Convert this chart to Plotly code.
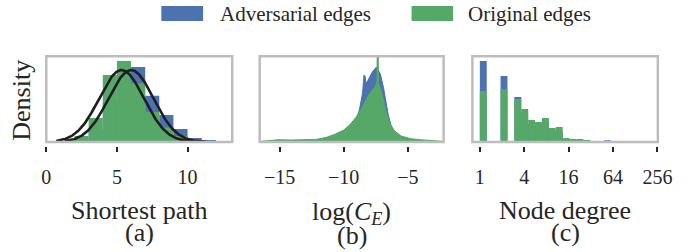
import numpy as np
import plotly.graph_objects as go

W, H = 691, 252
BLUE = '#4C72B0'
GREEN = '#55A868'
FRAME = '#bdbdbd'
INK = '#262626'
CURVE = '#1f1f1f'
FONT = 'Liberation Serif, Times New Roman, serif'

# ---------------- data ----------------
# (a) shortest path: density histograms with unit-width bins, plus normal fits
sp_bin_left = [2, 3, 4, 5, 6, 7, 8, 9, 10, 11]
sp_adv = [0.007, 0.042, 0.140, 0.237, 0.262, 0.161, 0.094, 0.045, 0.014, 0.007]
sp_orig = [0.021, 0.084, 0.234, 0.283, 0.205, 0.105, 0.051, 0.021, 0.009, 0.002]
sp_fit_adv = {'mu': 6.0, 'sigma': 1.59, 'lo': 1.3, 'hi': 11.3}
sp_fit_orig = {'mu': 5.33, 'sigma': 1.59, 'lo': 0.7, 'hi': 10.6}

# (b) log(C_E): density estimates
ce_adv_x = [-12.0, -11.0, -10.0, -9.54, -9.16, -8.78, -8.53, -8.47, -8.42, -8.33, -8.27,
            -8.10, -7.78, -7.45, -7.15, -6.90, -6.72, -6.52, -6.27, -6.02, -5.51, -4.76,
            -3.75, -3.0]
ce_adv_y = [0.003, 0.013, 0.033, 0.087, 0.17, 0.32, 0.49, 0.60, 0.67, 0.66, 0.59,
            0.62, 0.70, 0.753, 0.687, 0.55, 0.42, 0.27, 0.15, 0.08, 0.027, 0.01,
            0.003, 0.0]
ce_orig_x = [-16.6, -16.1, -15.1, -14.1, -13.1, -12.1, -11.35, -10.7, -10.0, -9.54, -9.03,
             -8.65, -8.27, -7.90, -7.57, -7.40, -7.39, -7.30, -7.29, -7.08, -6.90, -6.65,
             -6.40, -6.02, -5.51, -4.76, -3.75, -2.74, -2.2]
ce_orig_y = [0.005, 0.01, 0.023, 0.02, 0.02, 0.027, 0.047, 0.077, 0.12, 0.17, 0.25,
             0.327, 0.42, 0.50, 0.55, 0.60, 0.90, 0.90, 0.587, 0.52, 0.42, 0.287,
             0.187, 0.11, 0.06, 0.033, 0.02, 0.01, 0.006]

# (c) node degree: histograms on log2-spaced bins (first bin starts at degree 1)
deg_bin_width_log2 = 0.311
deg_adv = [0.81, 0, 0, 0.66, 0, 0.45, 0.30, 0.18, 0.16, 0.20, 0.11, 0.11, 0.03, 0.02,
           0.02, 0.01, 0.005, 0, 0.012]
deg_orig = [0.51, 0, 0, 0.53, 0, 0.43, 0.33, 0.22, 0.20, 0.24, 0.14, 0.15, 0.04, 0.03,
            0.03, 0.02, 0.007, 0, 0]
deg_tick_values = [1, 4, 16, 64, 256]

labels = ['Adversarial edges', 'Original edges']

# ---------------- layout geometry (pixels) ----------------
PLOT_TOP = 56.3      # frame top
FRAME_BOT = 142.0    # frame bottom (y = 0)
AXIS_BOT = 146.0     # tick start
frames_px = [(42.5, 234.0), (262.3, 451.7), (481.3, 672.3)]

def px_x(p):
    return p / W

def px_y(p):
    return 1 - p / H

def yrange(top):
    span = FRAME_BOT - PLOT_TOP
    return [-top * (AXIS_BOT - FRAME_BOT) / span, top]

fig = go.Figure()

# (a)
fig.add_bar(x=sp_bin_left, y=sp_adv, width=1, offset=0, marker=dict(color=BLUE, line_width=0),
            name=labels[0], xaxis='x', yaxis='y', showlegend=False)
fig.add_bar(x=sp_bin_left, y=sp_orig, width=1, offset=0, marker=dict(color=GREEN, line_width=0),
            name=labels[1], xaxis='x', yaxis='y', showlegend=False)
for fit in (sp_fit_orig, sp_fit_adv):
    xs = np.linspace(fit['lo'], fit['hi'], 200)
    ys = np.exp(-0.5 * ((xs - fit['mu']) / fit['sigma']) ** 2) / (fit['sigma'] * np.sqrt(2 * np.pi))
    fig.add_scatter(x=xs, y=ys, mode='lines', line=dict(color=CURVE, width=2.6),
                    xaxis='x', yaxis='y', showlegend=False, hoverinfo='skip')

# (b)
fig.add_scatter(x=ce_adv_x, y=ce_adv_y, mode='lines', fill='tozeroy', fillcolor=BLUE,
                line=dict(color=BLUE, width=1), xaxis='x2', yaxis='y2', showlegend=False,
                name=labels[0])
fig.add_scatter(x=ce_orig_x, y=ce_orig_y, mode='lines', fill='tozeroy', fillcolor=GREEN,
                line=dict(color=GREEN, width=1), xaxis='x2', yaxis='y2', showlegend=False,
                name=labels[1])

# (c)
deg_left = np.arange(len(deg_orig)) * deg_bin_width_log2
fig.add_bar(x=deg_left, y=deg_adv, width=deg_bin_width_log2, offset=0,
            marker=dict(color=BLUE, line_width=0), xaxis='x3', yaxis='y3', showlegend=False,
            name=labels[0])
fig.add_bar(x=deg_left, y=deg_orig, width=deg_bin_width_log2, offset=0,
            marker=dict(color=GREEN, line_width=0), xaxis='x3', yaxis='y3', showlegend=False,
            name=labels[1])

ydom = [px_y(AXIS_BOT), px_y(PLOT_TOP)]
tickfont = dict(family=FONT, size=20, color=INK)
xcommon = dict(ticks='outside', ticklen=5, tickwidth=2, tickcolor=INK, showline=False,
               showgrid=False, zeroline=False, tickfont=tickfont, ticklabelstandoff=8,
               title=dict(text=''))
ycommon = dict(visible=False, showgrid=False, zeroline=False, domain=ydom)

fig.update_layout(
    width=W, height=H, autosize=False, margin=dict(l=0, r=0, t=0, b=0),
    paper_bgcolor='white', plot_bgcolor='white', barmode='overlay',
    xaxis=dict(domain=[px_x(frames_px[0][0]), px_x(frames_px[0][1])], range=[0, 13.16],
               tickvals=[0, 5, 10], anchor='y', **xcommon),
    yaxis=dict(range=yrange(0.299), anchor='x', **ycommon),
    xaxis2=dict(domain=[px_x(frames_px[1][0]), px_x(frames_px[1][1])], range=[-16.56, -2.2],
                tickvals=[-15, -10, -5], anchor='y2', **xcommon),
    yaxis2=dict(range=yrange(0.86), anchor='x2', **ycommon),
    xaxis3=dict(domain=[px_x(frames_px[2][0]), px_x(frames_px[2][1])], range=[-0.337, 8.02],
                tickvals=list(np.log2(deg_tick_values)), ticktext=[str(v) for v in deg_tick_values],
                anchor='y3', **xcommon),
    yaxis3=dict(range=yrange(0.857), anchor='x3', **ycommon),
    showlegend=False,
)

# frames
for (l, r) in frames_px:
    fig.add_shape(type='rect', xref='paper', yref='paper', x0=px_x(l), x1=px_x(r),
                  y0=px_y(FRAME_BOT), y1=px_y(PLOT_TOP), line=dict(color=FRAME, width=2.5),
                  fillcolor='rgba(0,0,0,0)', layer='above')

# legend (patches + text)
for (l, r), col, txt, tx in [((161, 204), BLUE, labels[0], 219), ((418.7, 461.5), GREEN, labels[1], 475)]:
    fig.add_shape(type='rect', xref='paper', yref='paper', x0=px_x(l), x1=px_x(r),
                  y0=px_y(21), y1=px_y(6), line_width=0, fillcolor=col)
    fig.add_annotation(text=txt, x=px_x(tx), y=px_y(14), xref='paper', yref='paper',
                       xanchor='left', yanchor='middle', showarrow=False,
                       font=dict(family=FONT, size=21, color=INK))

def ann(text, x, y, size=26, angle=0, yanchor='middle'):
    fig.add_annotation(text=text, x=px_x(x), y=px_y(y), xref='paper', yref='paper',
                       xanchor='center', yanchor=yanchor, showarrow=False, textangle=angle,
                       font=dict(family=FONT, size=size, color=INK))

ann('Density', 17.5, 99.7, angle=-90)
ann('Shortest path', 138.2, 210.5)
ann('(a)', 138.2, 232.5)
ann('log(<i>C</i><sub><i>E</i></sub>)', 357, 213)
# keep the text box inside the page so nothing overflows the figure
ann('(b)', 357, 252, yanchor='bottom')
ann('Node degree', 576.8, 210.5)
ann('(c)', 576.8, 232.5)

post = """
var gd=document.getElementsByClassName('plotly-graph-div')[0];
[document.documentElement, document.body].forEach(function(e){
  e.style.margin='0'; e.style.padding='0'; e.style.overflow='hidden';
});
"""
fig.write_html('out.html', config={'displayModeBar': False, 'responsive': False}, post_script=post)
